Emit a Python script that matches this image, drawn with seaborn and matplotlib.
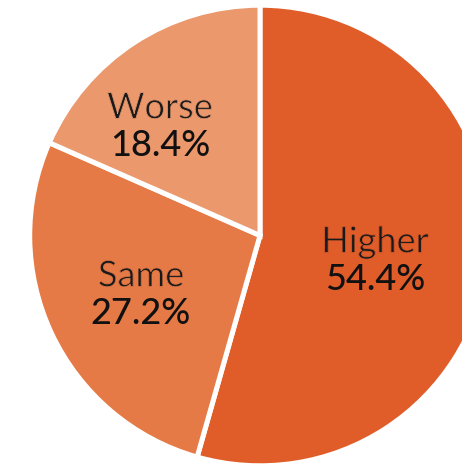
import matplotlib
matplotlib.use("Agg")
import matplotlib.pyplot as plt
import matplotlib.patheffects as pe
import seaborn as sns

categories = ["Higher", "Same", "Worse"]
shares = [54.4, 27.2, 18.4]
colors = ["#E05C29", "#E67A46", "#EB986D"]
# label anchors in axes data units (pie radius = 1)
label_x = [0.504, -0.522, -0.439]
label_y = [-0.099, -0.248, 0.489]

sns.set_theme(style="white")
plt.rcParams["font.family"] = ["Lato", "DejaVu Sans"]

W, H = 462, 465
fig = plt.figure(figsize=(W / 100, H / 100), dpi=100)
cx, cy, r = 260, 235.5, 228
ax = fig.add_axes([(cx - r) / W, (H - cy - r) / H, 2 * r / W, 2 * r / H])

wedges, _ = ax.pie(
    shares,
    colors=colors,
    startangle=90,
    counterclock=False,
    radius=1.01,
    wedgeprops=dict(edgecolor="white", linewidth=3.6),
)
ax.set_xlim(-1, 1)
ax.set_ylim(-1, 1)
ax.set_aspect("equal")
ax.axis("off")

for name, val, x, y, c in zip(categories, shares, label_x, label_y, colors):
    # category name in a lighter stroke: trim the glyph edges with the wedge colour
    ax.text(x, y - 0.002, name, ha="center", va="bottom", fontsize=26,
            fontweight="normal", color="#1a1a1a",
            path_effects=[pe.Normal(), pe.Stroke(linewidth=0.6, foreground=c)])
    ax.text(x, y - 0.02, f"{val:.1f}%", ha="center", va="top", fontsize=26,
            fontweight="medium", color="#111111")

fig.savefig("out.png", dpi=100)
